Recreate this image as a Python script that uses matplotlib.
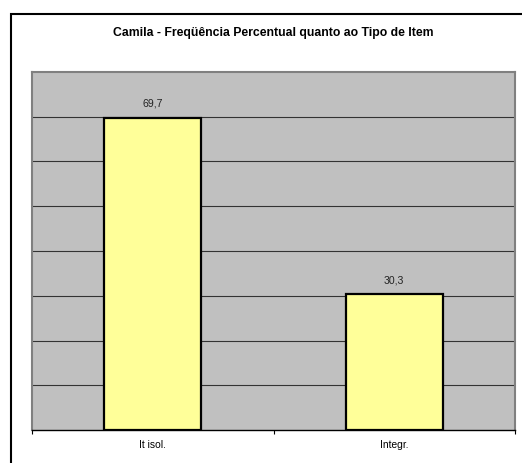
import matplotlib.pyplot as plt
from matplotlib.patches import Rectangle

plt.rcParams['font.family'] = ['Liberation Sans', 'DejaVu Sans']

# data
categories = ['It isol.', 'Integr.']
values = [69.7, 30.3]
value_labels = ['69,7', '30,3']
title = 'Camila - Freqüência Percentual quanto ao Tipo de Item'

W, H = 522, 463
fig = plt.figure(figsize=(W / 100, H / 100), dpi=100)

# outer chart border (runs off the right and bottom edge)
fig.patches.append(Rectangle((11 / W, -0.05), 1.1, 1 - 14 / H + 0.05,
                             transform=fig.transFigure, fill=False,
                             edgecolor='black', linewidth=1.5))

ax = fig.add_axes([32 / W, 1 - 430 / H, (515 - 32) / W, (430 - 72) / H])
ax.set_facecolor('#c0c0c0')

x = range(len(categories))
ax.bar(x, values, width=0.4, color='#ffff99', edgecolor='black',
       linewidth=1.6, zorder=3)
for xi, v, lab in zip(x, values, value_labels):
    ax.text(xi, v + 3.2, lab, ha='center', va='center', fontsize=7.6,
            color='#222222', zorder=4)

ax.set_xlim(-0.5, 1.5)
ax.set_ylim(0, 80)
ax.set_yticks(range(10, 80, 10))
ax.yaxis.grid(True, color='#333333', linewidth=0.8, zorder=1)
ax.tick_params(axis='y', left=False, labelleft=False)

ax.set_xticks([-0.5, 0.5, 1.5])
ax.set_xticklabels([])
ax.set_xticks(list(x), minor=True)
ax.set_xticklabels(categories, minor=True, fontsize=7.4)
ax.tick_params(axis='x', which='major', direction='out', length=3,
               width=0.8, color='black')
ax.tick_params(axis='x', which='minor', length=0, pad=7.5)

for side in ['top', 'left', 'right']:
    ax.spines[side].set_color('#808080')
    ax.spines[side].set_linewidth(1.5)
ax.spines['bottom'].set_color('black')
ax.spines['bottom'].set_linewidth(1.0)

fig.text(273 / W, 1 - 33 / H, title, ha='center', va='center',
         fontsize=8.8, fontweight='bold')

fig.savefig('out.png', dpi=100)
